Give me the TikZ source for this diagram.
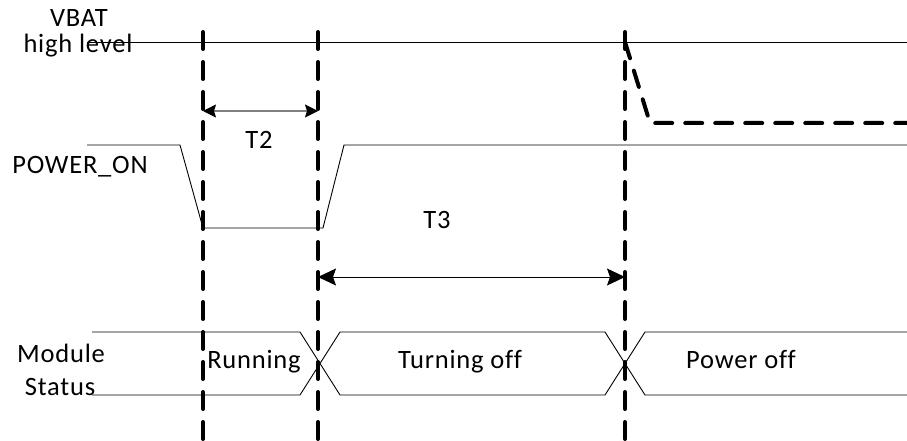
\documentclass[tikz,border=0pt]{standalone}
\usepackage{fontspec}
\setmainfont[LetterSpace=3,Ligatures=NoCommon]{Carlito}
\usetikzlibrary{arrows.meta}
\begin{document}
\begin{tikzpicture}[x=1pt,y=-1pt,
  sig/.style={line width=0.9pt,black},
  cutline/.style={line width=4pt,line cap=round,dash pattern=on 17pt off 13pt},
  lbl/.style={inner sep=0pt,anchor=base,font=\fontsize{26.5}{30}\selectfont},
  dimtwo/.style={line width=1.2pt,draw={rgb,255:red,128;green,128;blue,128},
    {Stealth[length=13pt,width=13pt,inset=2pt,color=black]}-{Stealth[length=13pt,width=13pt,inset=2pt,color=black]}},
  dimthree/.style={line width=0.9pt,black,
    {Stealth[length=18pt,width=17pt,inset=3pt]}-{Stealth[length=18pt,width=17pt,inset=3pt]}}]
\useasboundingbox (0,0) rectangle (907,441);

% labels
\node[lbl] (vbat) at (79,27) {VBAT};
\node[lbl] (hl) at (78,53) {high level};
\node[lbl] (pon) at (80,173) {POWER\_ON};
\node[lbl] (mod) at (61,362) {Module};
\node[lbl] (sta) at (60,395) {Status};
\node[lbl] (t2) at (259,148) {T2};
\node[lbl] (t3) at (437,228) {T3};
\node[lbl] (run) at (254,368) {Running};
\node[lbl] (toff) at (460,368) {Turning off};
\node[lbl] (poff) at (741,368) {Power off};

% VBAT high level
\draw[sig] (87,42) -- (907,42);

% POWER_ON signal
\draw[sig] (87,145) -- (180,145) -- (203,228) -- (323,228) -- (344,145) -- (907,145);

% Module status bus
\draw[sig] (92,332) -- (300,332) -- (340,395) -- (605,395) -- (645,332) -- (907,332);
\draw[sig] (92,395) -- (300,395) -- (340,332) -- (605,332) -- (645,395) -- (907,395);

% time markers
\coordinate (a1) at (203,32); \coordinate (a2) at (203,441);
\coordinate (b1) at (318,32); \coordinate (b2) at (318,441);
\coordinate (c1) at (625,32); \coordinate (c2) at (625,441);

% dimension arrows
\coordinate (t2l) at (203,111); \coordinate (t2r) at (318,111);
\coordinate (t3l) at (318,277); \coordinate (t3r) at (625,277);
\draw[dimtwo] (t2l) -- (t2r);
\draw[dimthree] (t3l) -- (t3r);

% VBAT drop
\draw[cutline] (625,42) -- (650,123) -- (907,123);

\draw[cutline] (a1) -- (a2);
\draw[cutline] (b1) -- (b2);
\draw[cutline] (c1) -- (c2);
\end{tikzpicture}
\end{document}
